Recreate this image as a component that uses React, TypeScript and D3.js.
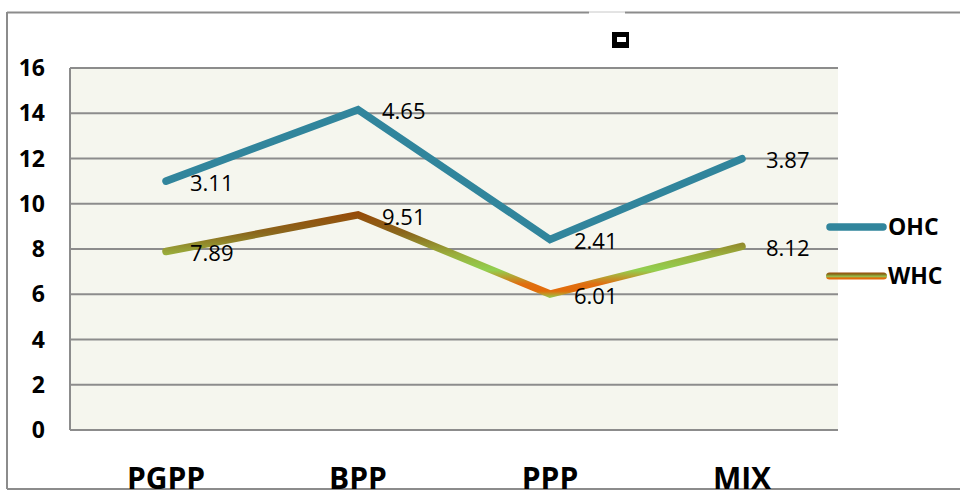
import React from "react";
import * as d3 from "d3";

const categories = ["PGPP", "BPP", "PPP", "MIX"];
const whcValues = [7.89, 9.51, 6.01, 8.12];
const ohcValues = [3.11, 4.65, 2.41, 3.87];
const yTicks = [0, 2, 4, 6, 8, 10, 12, 14, 16];
const seriesNames = ["OHC", "WHC"];

const W = 960;
const H = 491;
const plot = { left: 70, right: 838, top: 68, bottom: 430 };
const FONT = "'Open Sans', 'Noto Sans', sans-serif";

export default function App() {
  const x = d3
    .scaleBand<string>()
    .domain(categories)
    .range([plot.left, plot.right])
    .paddingInner(0)
    .paddingOuter(0);
  const cx = (c: string) => (x(c) as number) + x.bandwidth() / 2;
  const y = d3.scaleLinear().domain([0, 16]).range([plot.bottom, plot.top]);

  const whcPts = categories.map((c, i) => ({ c, v: whcValues[i], top: whcValues[i] }));
  const ohcPts = categories.map((c, i) => ({ c, v: ohcValues[i], top: whcValues[i] + ohcValues[i] }));

  const line = d3
    .line<{ c: string; top: number }>()
    .x((d) => cx(d.c))
    .y((d) => y(d.top));

  const whcMax = y(d3.max(whcValues) as number) - 4;
  const whcMin = y(d3.min(whcValues) as number) + 4;

  return (
    <svg
      width={W}
      height={H}
      style={{ position: "absolute", left: 0, top: 0, background: "#fff" }}
    >
      <defs>
        <linearGradient id="whcGrad" gradientUnits="userSpaceOnUse" x1={0} x2={0} y1={whcMax} y2={whcMin}>
          <stop offset="0" stopColor="#974806" />
          <stop offset="0.25" stopColor="#8a661c" />
          <stop offset="0.5" stopColor="#9aae3c" />
          <stop offset="0.68" stopColor="#92d050" />
          <stop offset="0.84" stopColor="#e06e10" />
          <stop offset="0.92" stopColor="#e36c0a" />
          <stop offset="1" stopColor="#92d050" />
        </linearGradient>
        <linearGradient id="whcLegGrad" gradientUnits="userSpaceOnUse" x1={0} x2={0} y1={272.5} y2={279.5}>
          <stop offset="0" stopColor="#974806" />
          <stop offset="0.3" stopColor="#8a7a20" />
          <stop offset="0.55" stopColor="#92c050" />
          <stop offset="0.8" stopColor="#e36c0a" />
          <stop offset="1" stopColor="#e36c0a" />
        </linearGradient>
      </defs>

      {/* outer border */}
      <line x1={7} x2={589} y1={12.5} y2={12.5} stroke="#8c8c8c" strokeWidth={2} />
      <line x1={589} x2={625} y1={12} y2={12} stroke="#c8c8c8" strokeWidth={1} />
      <line x1={625} x2={960} y1={12.5} y2={12.5} stroke="#8c8c8c" strokeWidth={2} />
      <line x1={7} x2={7} y1={12} y2={489} stroke="#8c8c8c" strokeWidth={2} />
      <line x1={7} x2={960} y1={489} y2={489} stroke="#8c8c8c" strokeWidth={2} />

      {/* title glyph */}
      <rect x={612} y={32} width={17} height={16} fill="#000" />
      <rect x={617} y={37} width={9} height={5} fill="#fff" />

      {/* plot area */}
      <rect
        x={plot.left}
        y={plot.top}
        width={plot.right - plot.left}
        height={plot.bottom - plot.top}
        fill="#f5f6ee"
      />
      {yTicks.map((t) => (
        <line
          key={t}
          x1={plot.left}
          x2={plot.right}
          y1={y(t)}
          y2={y(t)}
          stroke="#8c8c8c"
          strokeWidth={2}
        />
      ))}
      <line x1={plot.left} x2={plot.left} y1={plot.top} y2={plot.bottom} stroke="#8c8c8c" strokeWidth={2} />

      {/* y tick labels */}
      {yTicks.map((t) => (
        <text
          key={t}
          x={45}
          y={y(t)}
          dy="0.35em"
          textAnchor="end"
          fontFamily={FONT}
          fontWeight="bold"
          fontSize={23}
          fill="#000"
        >
          {t}
        </text>
      ))}

      {/* x labels */}
      {categories.map((c) => (
        <text
          key={c}
          x={cx(c)}
          y={489}
          textAnchor="middle"
          fontFamily={FONT}
          fontWeight="bold"
          fontSize={30}
          fill="#000"
        >
          {c}
        </text>
      ))}

      {/* lines */}
      <path
        d={line(whcPts) || ""}
        fill="none"
        stroke="url(#whcGrad)"
        strokeWidth={7.5}
        strokeLinecap="round"
        strokeLinejoin="miter"
      />
      <path
        d={line(ohcPts) || ""}
        fill="none"
        stroke="#31859c"
        strokeWidth={7.5}
        strokeLinecap="round"
        strokeLinejoin="miter"
      />

      {/* data labels */}
      {ohcPts.map((p) => (
        <text
          key={"o" + p.c}
          x={cx(p.c) + 24}
          y={y(p.top) + 2}
          dy="0.35em"
          fontFamily={FONT}
          fontSize={22}
          fill="#000"
        >
          {p.v.toFixed(2)}
        </text>
      ))}
      {whcPts.map((p) => (
        <text
          key={"w" + p.c}
          x={cx(p.c) + 24}
          y={y(p.top) + 2}
          dy="0.35em"
          fontFamily={FONT}
          fontSize={22}
          fill="#000"
        >
          {p.v.toFixed(2)}
        </text>
      ))}

      {/* legend */}
      <line x1={830} x2={883} y1={227} y2={227} stroke="#31859c" strokeWidth={7.5} strokeLinecap="round" />
      <text x={888} y={227} dy="0.35em" fontFamily={FONT} fontWeight="bold" fontSize={23} fill="#000">
        {seriesNames[0]}
      </text>
      <rect x={826} y={272.5} width={61} height={7} rx={3.5} fill="url(#whcLegGrad)" />
      <text x={888} y={276} dy="0.35em" fontFamily={FONT} fontWeight="bold" fontSize={23} fill="#000">
        {seriesNames[1]}
      </text>
    </svg>
  );
}
